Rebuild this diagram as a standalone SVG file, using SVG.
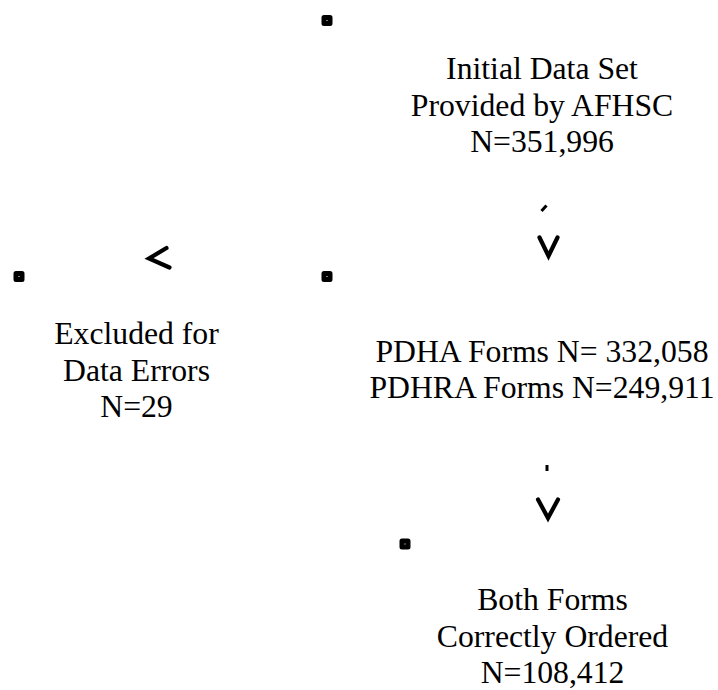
<svg xmlns="http://www.w3.org/2000/svg" width="718" height="690" viewBox="0 0 718 690">
<style>
.bg{fill:#ffffff}
.corner{fill:#000;stroke:#000;stroke-width:5;stroke-linejoin:round}
.hole{fill:#fff}
.lbl{font-family:"Liberation Serif","Times New Roman",serif;font-size:31.7px;fill:#000;text-anchor:middle}
.chev{fill:none;stroke:#000;stroke-width:4.2;stroke-linecap:round;stroke-linejoin:miter}
.tick{fill:none;stroke:#000;stroke-width:3;stroke-linecap:butt}
</style>
<rect class="bg" x="0" y="0" width="718" height="690"/>
<g id="node-initial">
  <rect class="corner" x="324" y="17.5" width="6" height="6"/>
  <rect class="hole" x="326.5" y="20" width="1" height="1"/>
  <text class="lbl" x="542" y="79">Initial Data Set</text>
  <text class="lbl" x="542" y="115.5">Provided by AFHSC</text>
  <text class="lbl" x="542" y="152">N=351,996</text>
</g>
<g id="node-forms">
  <rect class="corner" x="324" y="273.5" width="6" height="6"/>
  <rect class="hole" x="326.5" y="276" width="1" height="1"/>
  <text class="lbl" x="542" y="362">PDHA Forms N= 332,058</text>
  <text class="lbl" x="542" y="398">PDHRA Forms N=249,911</text>
</g>
<g id="node-excluded">
  <rect class="corner" x="16" y="273.5" width="6" height="6"/>
  <rect class="hole" x="18.5" y="276" width="1" height="1"/>
  <text class="lbl" x="136.5" y="344">Excluded for</text>
  <text class="lbl" x="136.5" y="380.5">Data Errors</text>
  <text class="lbl" x="136.5" y="417">N=29</text>
</g>
<g id="node-both">
  <rect class="corner" x="402" y="541" width="6" height="6"/>
  <rect class="hole" x="404.5" y="543.5" width="1" height="1"/>
  <text class="lbl" x="552.5" y="610">Both Forms</text>
  <text class="lbl" x="552.5" y="646.5">Correctly Ordered</text>
  <text class="lbl" x="552.5" y="683">N=108,412</text>
</g>
<g id="connectors">
  <path class="tick" d="M541.5,211 L546.5,205.5"/>
  <path class="chev" d="M539.5,237.5 L548.5,256 L557.5,237.5"/>
  <path class="chev" d="M166.5,248 L149,258.5 L169.5,267.5"/>
  <path class="tick" d="M547,465 L547,471"/>
  <path class="chev" d="M538,499.5 L548,518 L558,499.5"/>
</g>
</svg>
